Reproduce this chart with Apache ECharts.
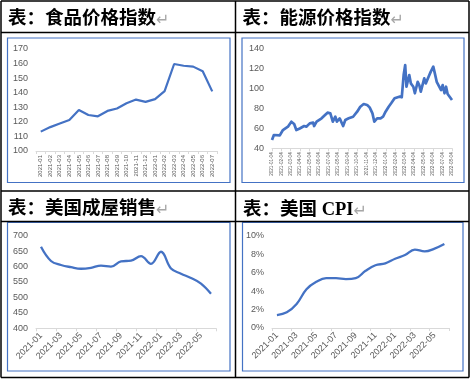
<!DOCTYPE html>
<html><head><meta charset="utf-8">
<script src="https://cdn.jsdelivr.net/npm/echarts@6/dist/echarts.min.js"></script>
<style>html,body{margin:0;padding:0;background:#fff}#c{width:473px;height:380px}</style>
</head><body><div id="c"></div>
<script>
// ---- data ----
const foodMonths = ['2021-01','2021-02','2021-03','2021-04','2021-05','2021-06','2021-07','2021-08','2021-09','2021-10','2021-11','2021-12','2022-01','2022-02','2022-03','2022-04','2022-05','2022-06','2022-07'];
const foodIndex = [113.3,116.4,118.9,121.3,128.1,124.7,123.8,127.5,129.2,132.8,135.3,133.7,135.6,141.1,159.7,158.5,157.9,154.7,140.9];

const energyDates = ['2021-01-04','2021-01-10','2021-01-29','2021-02-08','2021-02-24','2021-03-07','2021-03-16','2021-03-23','2021-04-03','2021-04-08','2021-04-17','2021-04-24','2021-05-05','2021-05-16','2021-05-19','2021-05-27','2021-06-12','2021-06-23','2021-07-01','2021-07-10','2021-07-18','2021-07-26','2021-07-31','2021-08-09','2021-08-13','2021-08-20','2021-08-27','2021-09-07','2021-09-12','2021-09-21','2021-10-04','2021-10-14','2021-10-25','2021-11-05','2021-11-13','2021-11-22','2021-11-28','2021-12-07','2021-12-18','2021-12-26','2022-01-03','2022-01-13','2022-01-21','2022-02-01','2022-02-05','2022-02-16','2022-02-24','2022-03-02','2022-03-07','2022-03-11','2022-03-20','2022-03-25','2022-04-02','2022-04-07','2022-04-16','2022-04-21','2022-04-26','2022-05-07','2022-05-12','2022-05-21','2022-05-28','2022-06-05','2022-06-10','2022-06-16','2022-06-22','2022-06-30','2022-07-05','2022-07-11','2022-07-16','2022-07-21','2022-07-27','2022-08-04'];
const energyIndex = [48.4,53.4,53,58.4,61.8,66.8,64.5,58.4,60,58.4,62.4,61.8,65.1,65.8,62.4,66.8,70.2,73.5,75.9,75.2,66.8,71.8,66.8,70.1,68.5,62.4,68.5,70.2,68.5,71.8,76.9,81.9,84.6,83.6,81.2,75.2,66.8,70.1,70.1,71.8,76.9,81.9,85.3,90.3,88.7,92,91.4,113.8,123.9,102,113.8,105.4,102,95.4,107,103.7,97,110.5,105.4,112.1,117.2,122.2,115.5,107,108.7,98.7,103.7,95.4,102,94.7,96,88.6];
const energyTickLabels = ['2021-01-04','2021-02-04','2021-03-04','2021-04-04','2021-05-04','2021-06-04','2021-07-04','2021-08-04','2021-09-04','2021-10-04','2021-11-04','2021-12-04','2022-01-04','2022-02-04','2022-03-04','2022-04-04','2022-05-04','2022-06-04','2022-07-04','2022-08-04'];

const salesMonths = ['2021-01','2021-02','2021-03','2021-04','2021-05','2021-06','2021-07','2021-08','2021-09','2021-10','2021-11','2021-12','2022-01','2022-02','2022-03','2022-04','2022-05','2022-06'];
const homeSales = [664,618,605,598,593,596,603,600,617,619,634,609,648,594,577,563,545,512];

const cpiMonths = salesMonths;
const cpiYoY = [1.4,1.7,2.6,4.2,5.0,5.4,5.4,5.3,5.4,6.2,6.8,7.0,7.5,7.9,8.5,8.3,8.6,9.1];

const titles = ['表：食品价格指数','表：能源价格指数','表：美国成屋销售','表：美国 CPI'];

// ---- chart ----
const chart = echarts.init(document.getElementById('c'), null, {renderer:'canvas'});
const BLUE = '#4472C4', GRAY = '#595959', AX = '#d9d9d9';
const FONT = "'Liberation Sans','Noto Sans',sans-serif";
const toTs = d => { const p = d.split('-').map(Number); return new Date(p[0], p[1]-1, p[2]).getTime(); };
const fmtTs = v => { const t = new Date(v); const z = n => (n < 10 ? '0' : '') + n; return t.getFullYear() + '-' + z(t.getMonth()+1) + '-' + z(t.getDate()); };
const energyTicks = energyTickLabels.map(toTs);

function yAxisBase(gi, min, max, interval, fmt) {
  return {type:'value', gridIndex:gi, min, max, interval,
    axisLine:{show:false}, axisTick:{show:false}, splitLine:{show:false},
    axisLabel:{color:GRAY, fontSize:9, fontFamily:FONT, margin:8, formatter:fmt||'{value}'}};
}
function catX(gi, data, opts) {
  return Object.assign({type:'category', gridIndex:gi, data, boundaryGap:true,
    axisLine:{lineStyle:{color:AX, width:1}},
    axisTick:{show:true, length:3, lineStyle:{color:AX}},
    splitLine:{show:false}}, opts);
}

const grids = [
  {left:36, top:49, width:181, height:102},
  {left:272, top:49, width:180, height:99.3},
  {left:36, top:235.7, width:180, height:92.6},
  {left:272, top:235.7, width:177.3, height:92.3}
].map(g => Object.assign(g, {outerBoundsMode:'none', containLabel:false}));

const titleGraphics = titles.map((t, i) => {
  const pos = [[8, 19.5],[242.5, 19.5],[8, 209.5],[243, 210]][i];
  return {type:'text', x:pos[0], y:pos[1], z:10, style:{
    text:'{t|' + t + '}{r|↵}', verticalAlign:'middle',
    rich:{
      t:{fontSize:18.5, fontWeight:'bold', fill:'#000', fontFamily:"'Liberation Serif','Noto Sans CJK SC',serif"},
      r:{fontSize:16, fill:'#a6a6a6', fontFamily:"'DejaVu Sans',sans-serif", padding:[3,0,0,0]}
    }}};
});

const lineG = (x1,y1,x2,y2,w,c) => ({type:'line', shape:{x1,y1,x2,y2}, style:{stroke:c||'#000', lineWidth:w||1.5}, z:5});
const rectG = (x,y,w,h) => ({type:'rect', shape:{x,y,width:w,height:h}, style:{fill:null, stroke:BLUE, lineWidth:1.2}, z:4});

chart.setOption({
  animation:false,
  backgroundColor:'#fff',
  grid: grids,
  xAxis: [
    catX(0, foodMonths, {axisLabel:{color:GRAY, fontSize:6, fontFamily:FONT, rotate:90, interval:0, margin:4}}),
    {type:'value', gridIndex:1, min:energyTicks[0], max:energyTicks[energyTicks.length-1],
      axisLine:{show:true, lineStyle:{color:AX}}, splitLine:{show:false},
      axisTick:{show:true, length:3, lineStyle:{color:AX}, customValues:energyTicks},
      axisLabel:{color:GRAY, fontSize:4.6, fontFamily:FONT, rotate:90, margin:4, customValues:energyTicks,
        showMinLabel:true, showMaxLabel:true, formatter: v => fmtTs(v)}},
    catX(2, salesMonths, {axisTick:{show:true, length:3, interval:1, lineStyle:{color:AX}},
      axisLabel:{color:GRAY, fontSize:9, fontFamily:FONT, rotate:45, interval:1, margin:6}}),
    catX(3, cpiMonths, {axisTick:{show:true, length:3, interval:1, lineStyle:{color:AX}},
      axisLabel:{color:GRAY, fontSize:9, fontFamily:FONT, rotate:45, interval:1, margin:6}})
  ],
  yAxis: [
    yAxisBase(0, 100, 170, 10),
    yAxisBase(1, 40, 140, 20),
    yAxisBase(2, 400, 700, 50),
    yAxisBase(3, 0, 10, 2, '{value}%')
  ],
  series: [
    {type:'line', xAxisIndex:0, yAxisIndex:0, data:foodIndex, symbol:'none', lineStyle:{color:BLUE, width:2.2}},
    {type:'line', xAxisIndex:1, yAxisIndex:1, data:energyDates.map((d,i)=>[toTs(d), energyIndex[i]]), symbol:'none', lineStyle:{color:BLUE, width:2.7, join:'round'}},
    {type:'line', xAxisIndex:2, yAxisIndex:2, data:homeSales, symbol:'none', smooth:0.4, lineStyle:{color:BLUE, width:2.3}},
    {type:'line', xAxisIndex:3, yAxisIndex:3, data:cpiYoY, symbol:'none', smooth:0.4, lineStyle:{color:BLUE, width:2.3}}
  ],
  graphic: [
    lineG(1, 1, 469, 1), lineG(1, 377.5, 469, 377.5),
    lineG(1, 1, 1, 377.5), lineG(469, 1, 469, 377.5),
    lineG(235.5, 1, 235.5, 377.5),
    lineG(1, 32.5, 469, 32.5), lineG(1, 191, 469, 191), lineG(1, 221.5, 469, 221.5),
    rectG(7.5, 38, 222.5, 144.5), rectG(242, 38, 222, 144.5),
    rectG(7.5, 222.5, 222.5, 148.5), rectG(242.5, 222.5, 220.5, 148.5)
  ].concat(titleGraphics)
});
</script></body></html>
